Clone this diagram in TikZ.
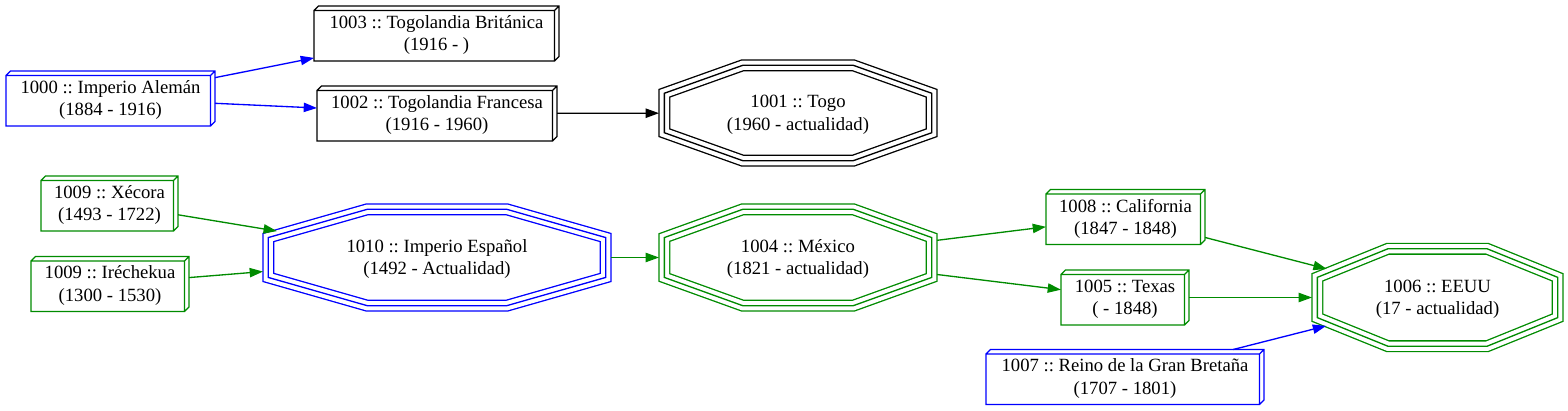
\documentclass[tikz,border=0pt]{standalone}
\usepackage{fontspec}
\setmainfont{Liberation Serif}
\usetikzlibrary{arrows.meta,calc}
\definecolor{gvblue}{RGB}{0,0,255}
\definecolor{gvgreen}{RGB}{0,139,0}
\frenchspacing

% box3d outline: front face + depth of 4.5pt to the top right
\newcommand\boxthreed[2]{%
  \draw[#2,line width=1.33pt,line join=miter]
    ($(#1.north west)+(0pt,-4.5pt)$) rectangle ($(#1.south east)+(-4.5pt,0pt)$)
    ($(#1.north west)+(0pt,-4.5pt)$) -- ($(#1.north west)+(4.5pt,0pt)$)
      -- (#1.north east) -- ($(#1.south east)+(0pt,4.5pt)$)
      -- ($(#1.south east)+(-4.5pt,0pt)$)
    (#1.north east) -- ($(#1.north east)+(-4.5pt,-4.5pt)$);}

% tripleoctagon: three outlines 5.33pt apart, outer one on the node box
\newcommand\tripoct[2]{%
  \draw[#2,line width=12pt,line join=miter,
      postaction={draw=white,line width=9.33pt},
      postaction={draw=#2,line width=1.33pt}]
    let \p1=($(#1.north west)+(5.33pt,-5.33pt)$),
        \p2=($(#1.south east)+(-5.33pt,5.33pt)$),
        \n1={0.293*(\x2-\x1)}, \n2={0.293*(\y1-\y2)} in
    ({\x1+\n1},\y1) -- ({\x2-\n1},\y1) -- (\x2,{\y1-\n2}) -- (\x2,{\y2+\n2})
    -- ({\x2-\n1},\y2) -- ({\x1+\n1},\y2) -- (\x1,{\y2+\n2})
    -- (\x1,{\y1-\n2}) -- cycle;
  % corners of the two left slants (edge ends)
  \coordinate (#1tl) at ($(#1.north west)!.293!(#1.north east)$);
  \coordinate (#1ul) at ($(#1.north west)!.293!(#1.south west)$);
  \coordinate (#1bl) at ($(#1.south west)!.293!(#1.south east)$);
  \coordinate (#1ll) at ($(#1.south west)!.293!(#1.north west)$);}

\begin{document}
\begin{tikzpicture}[x=1pt,y=-1pt,
  font=\fontsize{18.67pt}{22.4pt}\selectfont,
  box/.style={rectangle,draw=none,inner sep=0pt,outer sep=0pt,align=center,
    minimum height=55pt,text depth=0.7pt},
  oct/.style={rectangle,draw=none,inner sep=0pt,outer sep=0pt,align=center,
    text depth=0.7pt},
  arr/.style={-{Triangle[length=13.3pt,width=9.3pt]},line width=1.33pt}]
\useasboundingbox (0,0) rectangle (1568,411);

% ---- box3d nodes ----
\node[box,minimum width=209pt] (aleman) at (110.5,98.5)
  {1000 :: Imperio Alemán\\(1884 - 1916)};
\node[box,minimum width=245pt] (britanica) at (436.5,33.5)
  {1003 :: Togolandia Británica\\(1916 - )};
\node[box,minimum width=240pt] (francesa) at (437,113.5)
  {1002 :: Togolandia Francesa\\(1916 - 1960)};
\node[box,minimum width=137pt] (xecora) at (109.5,203.5)
  {1009 :: Xécora\\(1493 - 1722)};
\node[box,minimum width=158pt] (irechekua) at (110,284)
  {1009 :: Iréchekua\\(1300 - 1530)};
\node[box,minimum width=159pt] (california) at (1125.5,217)
  {1008 :: California\\(1847 - 1848)};
\node[box,minimum width=128pt] (texas) at (1125,297.5)
  {1005 :: Texas\\( - 1848)};
\node[box,minimum width=278pt] (bretana) at (1125,377)
  {1007 :: Reino de la Gran Bretaña\\(1707 - 1801)};

% ---- tripleoctagon nodes ----
\node[oct,minimum width=278pt,minimum height=106pt] (togo) at (798,113)
  {1001 :: Togo\\(1960 - actualidad)};
\node[oct,minimum width=348pt,minimum height=107pt] (espana) at (437,257.5)
  {1010 :: Imperio Español\\(1492 - Actualidad)};
\node[oct,minimum width=278pt,minimum height=107pt] (mexico) at (798,257.5)
  {1004 :: México\\(1821 - actualidad)};
\node[oct,minimum width=251pt,minimum height=108pt] (eeuu) at (1437.5,297.5)
  {1006 :: EEUU\\(17 - actualidad)};

% outlines
\boxthreed{aleman}{gvblue}
\boxthreed{britanica}{black}
\boxthreed{francesa}{black}
\boxthreed{xecora}{gvgreen}
\boxthreed{irechekua}{gvgreen}
\boxthreed{california}{gvgreen}
\boxthreed{texas}{gvgreen}
\boxthreed{bretana}{gvblue}
\tripoct{togo}{black}
\tripoct{espana}{gvblue}
\tripoct{mexico}{gvgreen}
\tripoct{eeuu}{gvgreen}

% ---- edges ----
\draw[arr,gvblue] (aleman) -- (britanica);
\draw[arr,gvblue] (aleman) -- (francesa);
\draw[arr] (francesa) -- (togo);
\draw[arr,gvgreen] (xecora)
  -- (intersection of xecora--espana and espanatl--espanaul);
\draw[arr,gvgreen] (irechekua) -- (espana);
\draw[arr,gvgreen] (espana) -- (mexico);
\draw[arr,gvgreen] (mexico) -- (california);
\draw[arr,gvgreen] (mexico) -- (texas);
\draw[arr,gvgreen] (california)
  -- (intersection of california--eeuu and eeuutl--eeuuul);
\draw[arr,gvgreen] (texas) -- (eeuu);
\draw[arr,gvblue] (bretana)
  -- (intersection of bretana--eeuu and eeuubl--eeuull);
\end{tikzpicture}
\end{document}
